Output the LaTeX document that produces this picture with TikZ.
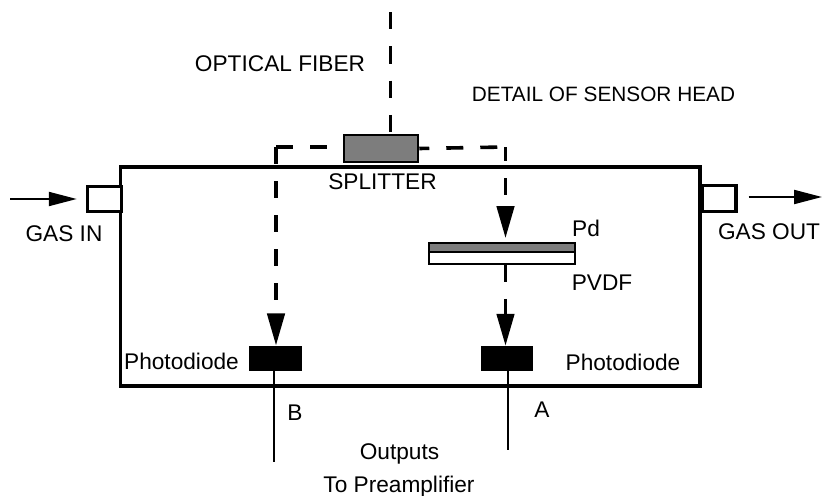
\documentclass[tikz,border=0pt]{standalone}
\usepackage{fontspec}
\setmainfont{Liberation Sans}
\usetikzlibrary{arrows.meta,calc}
\definecolor{meshgray}{RGB}{125,125,125}
\tikzset{
    wall/.style={draw=black, line width=2.6pt, fill=white, inner sep=0pt},
    layer/.style={draw=black, line width=1.4pt, inner sep=0pt},
    diode/.style={fill=black, minimum width=39.5pt, minimum height=18.7pt, inner sep=0pt},
    caption/.style={inner sep=0pt, font=\fontsize{17pt}{19pt}\selectfont},
    beam/.style={line width=2.7pt, dash pattern=on 12.75pt off 12.75pt},
    beamtip/.style={-{Triangle[length=24pt,width=13pt]}},
    flow/.style={line width=1.5pt, -{Triangle[length=21pt,width=10.5pt]}},
    wire/.style={line width=1.3pt}
}

\begin{document}
\begin{tikzpicture}[x=0.75pt, y=-0.75pt]
    \useasboundingbox (0,0) rectangle (822,496);

    % chamber and gas ports
    \node[wall, minimum width=434.6pt, minimum height=164.2pt] (chamber) at (410.2,276.5) {};
    \node[wall, minimum width=25.5pt, minimum height=19pt] (gasin) at (104.5,199) {};
    \node[wall, minimum width=25.5pt, minimum height=19.5pt] (gasout) at (719,198.5) {};
    \coordinate (inleft) at (10,199);
    \coordinate (outright) at (822,197);
    \draw[flow] (inleft) -- ($(gasin.west)+(-9,0)$);
    \draw[flow] ($(gasout.east)+(11,-1.5)$) -- (outright);

    % splitter and fiber
    \node[layer, fill=meshgray, minimum width=56pt, minimum height=20.5pt] (splitter) at (381,148.5) {};
    \coordinate (fibertop) at (390.5,12);
    \draw[line width=1.9pt, dash pattern=on 13.1pt off 12.6pt] (fibertop) -- (fibertop |- splitter.north);

    % sensor layers
    \node[layer, fill=meshgray, minimum width=110pt, minimum height=6.75pt] (palladium) at (502,247.5) {};
    \node[layer, fill=white, minimum width=110pt, minimum height=9pt] (pvdf) at (502,258) {};

    % photodiodes
    \node[diode] (diodeb) at (275.5,358.2) {};
    \node[diode] (diodea) at (507,358.5) {};

    % light paths
    \coordinate (cornerb) at (276,147);
    \coordinate (cornera) at (505.5,147);
    \draw[beam] (cornerb) -- (cornerb -| splitter.west);
    \draw[beam, dash phase=5.25pt] (splitter.east) -- (cornera);
    \draw[beam, beamtip] (cornerb) -- (cornerb |- diodeb.north);
    \draw[beam, beamtip, dash phase=2.25pt, shorten >=3pt] (cornera) -- (cornera |- palladium.north);
    \draw[beam, beamtip] (cornera |- pvdf.south) -- (cornera |- diodea.north);

    % output leads
    \coordinate (leadb) at (274,462);
    \coordinate (leada) at (508,450);
    \draw[wire] (leadb |- diodeb.south) -- (leadb);
    \draw[wire] (leada |- diodea.south) -- (leada);

    % labels
    \node[caption] (fiberlabel) at (280,64) {OPTICAL FIBER};
    \node[caption, font=\fontsize{15.6pt}{18pt}\selectfont] (titlelabel) at (603.5,94) {DETAIL OF SENSOR HEAD};
    \node[caption] (splitterlabel) at (382.5,182) {SPLITTER};
    \node[caption] (gasinlabel) at (64,234) {GAS IN};
    \node[caption] (gasoutlabel) at (769,232) {GAS OUT};
    \node[caption] (pdlabel) at (586,228) {Pd};
    \node[caption] (pvdflabel) at (602,283) {PVDF};
    \node[caption] (diodeblabel) at (181.5,361) {Photodiode};
    \node[caption] (diodealabel) at (623,362) {Photodiode};
    \node[caption] (blabel) at (295,413) {B};
    \node[caption] (alabel) at (542,410) {A};
    \node[caption] (outputslabel) at (399.5,453.5) {Outputs};
    \node[caption] (preamplabel) at (399,486.5) {To Preamplifier};
\end{tikzpicture}
\end{document}
